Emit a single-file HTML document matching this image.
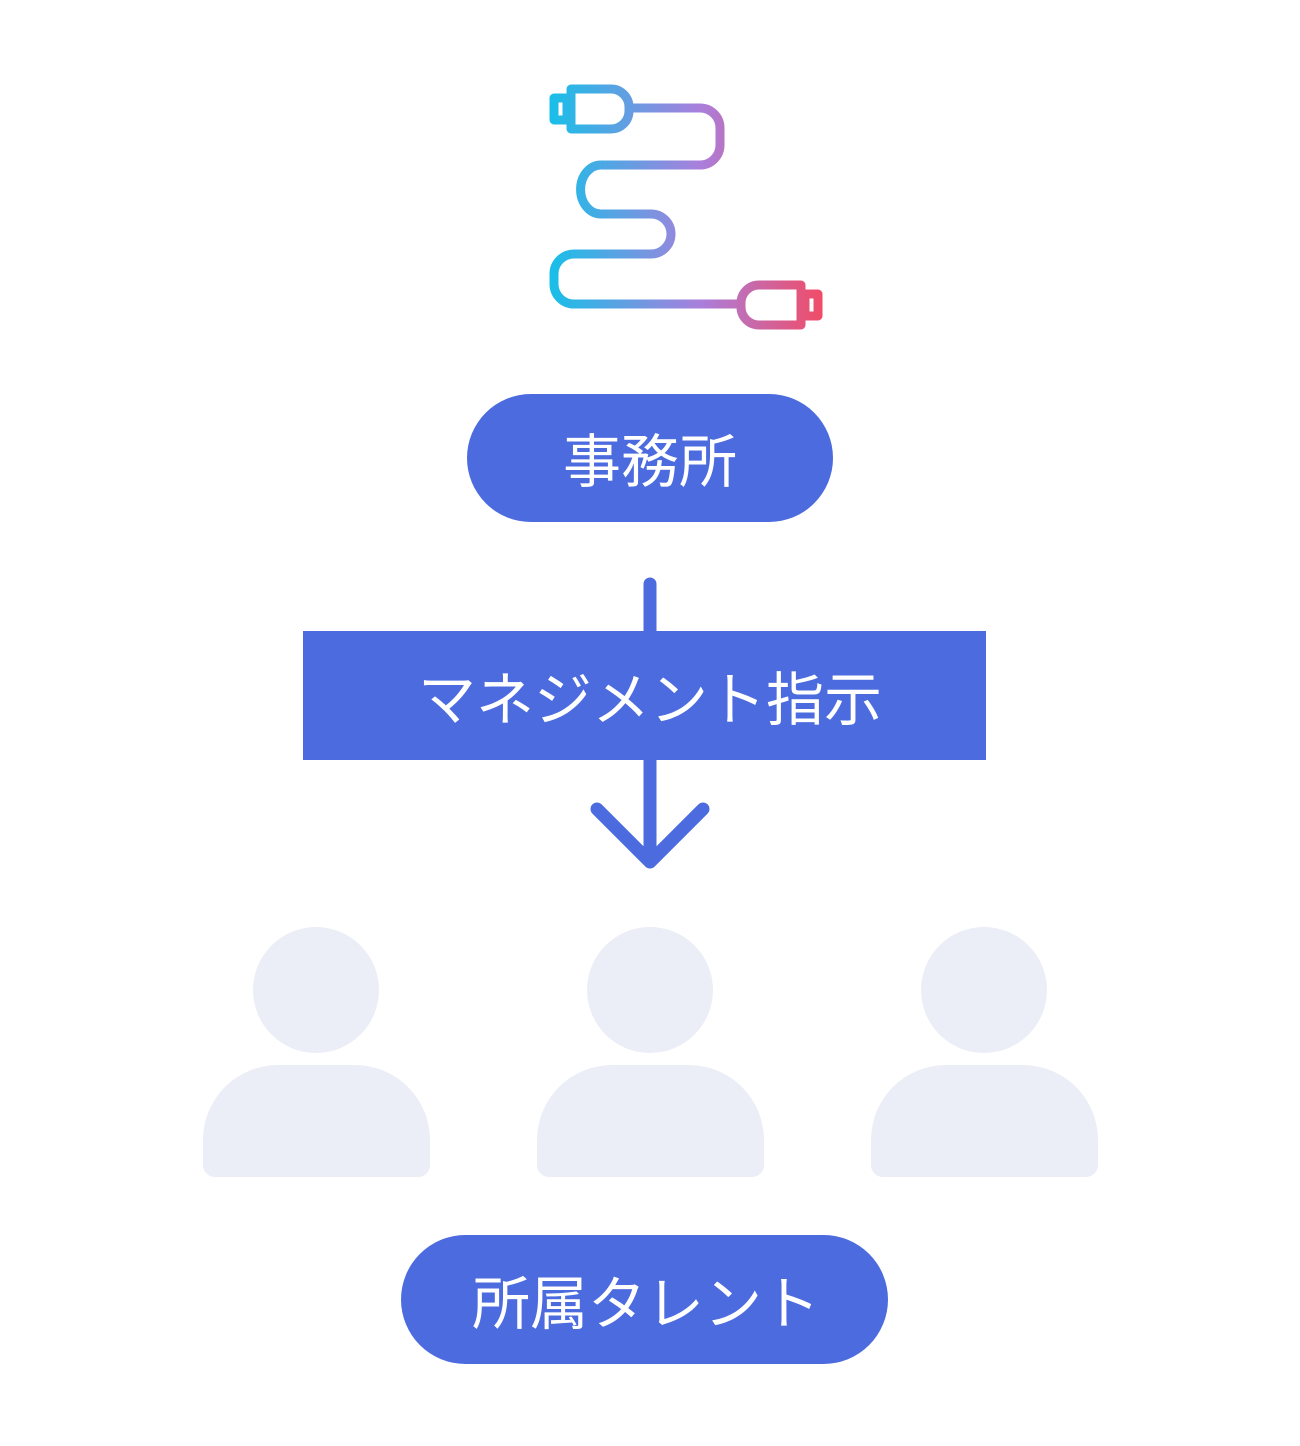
<!DOCTYPE html>
<html><head><meta charset="utf-8"><style>
html,body{margin:0;padding:0;background:#fff;}
body{width:1300px;height:1446px;position:relative;overflow:hidden;font-family:"Liberation Sans","Noto Sans CJK JP",sans-serif;}
</style></head><body>
<svg width="1300" height="1446" viewBox="0 0 1300 1446" style="position:absolute;left:0;top:0">
<defs>
<linearGradient id="g" gradientUnits="userSpaceOnUse" x1="550" y1="0" x2="822" y2="0">
<stop offset="0" stop-color="#18BFE8"/>
<stop offset="0.55" stop-color="#A97FDC"/>
<stop offset="1" stop-color="#F04C68"/>
</linearGradient>
</defs>
<g fill="none" stroke="url(#g)" stroke-width="9" stroke-linejoin="round">
<path d="M571 89 H611 A18 18 0 0 1 629 107 V111 A18 18 0 0 1 611 129 H571 Z"/>
<rect x="554" y="98" width="13" height="22"/>
<path d="M629 108 H700 A20 20 0 0 1 720 128 V145 A20 20 0 0 1 700 165 H601 A20 24 0 0 0 601 214 H651 A20 20 0 0 1 651 254 H574 A20 20 0 0 0 554 274 V284 A20 20 0 0 0 574 304 H741"/>
<path d="M801 285 H759 A18 18 0 0 0 741 303 V307 A18 18 0 0 0 759 325 H801 Z"/>
<rect x="805" y="294" width="13" height="22"/>
</g>
<rect x="467" y="394" width="366" height="128" rx="64" fill="#4C6BDF"/>
<text x="650" y="482" text-anchor="middle" font-size="58" fill="#fff" font-family="Liberation Sans, Noto Sans CJK JP, sans-serif">事務所</text>
<line x1="650" y1="584" x2="650" y2="860" stroke="#4C6BDF" stroke-width="13" stroke-linecap="round"/>
<polyline points="597,809 650,862 703,809" fill="none" stroke="#4C6BDF" stroke-width="13" stroke-linecap="round" stroke-linejoin="round"/>
<rect x="303" y="631" width="683" height="129" fill="#4C6BDF"/>
<text x="650" y="720" text-anchor="middle" font-size="58" fill="#fff" font-family="Liberation Sans, Noto Sans CJK JP, sans-serif">マネジメント指示</text>
<g fill="#EBEEF6">
<circle cx="316" cy="990" r="63"/><circle cx="650" cy="990" r="63"/><circle cx="984" cy="990" r="63"/>
<path d="M203 1165 V1140 A75 75 0 0 1 278 1065 H355 A75 75 0 0 1 430 1140 V1165 A12 12 0 0 1 418 1177 H215 A12 12 0 0 1 203 1165Z"/>
<path d="M537 1165 V1140 A75 75 0 0 1 612 1065 H689 A75 75 0 0 1 764 1140 V1165 A12 12 0 0 1 752 1177 H549 A12 12 0 0 1 537 1165Z"/>
<path d="M871 1165 V1140 A75 75 0 0 1 946 1065 H1023 A75 75 0 0 1 1098 1140 V1165 A12 12 0 0 1 1086 1177 H883 A12 12 0 0 1 871 1165Z"/>
</g>
<rect x="401" y="1235" width="487" height="129" rx="64.5" fill="#4C6BDF"/>
<text x="646" y="1324" text-anchor="middle" font-size="58" fill="#fff" font-family="Liberation Sans, Noto Sans CJK JP, sans-serif">所属タレント</text>
</svg>
</body></html>
